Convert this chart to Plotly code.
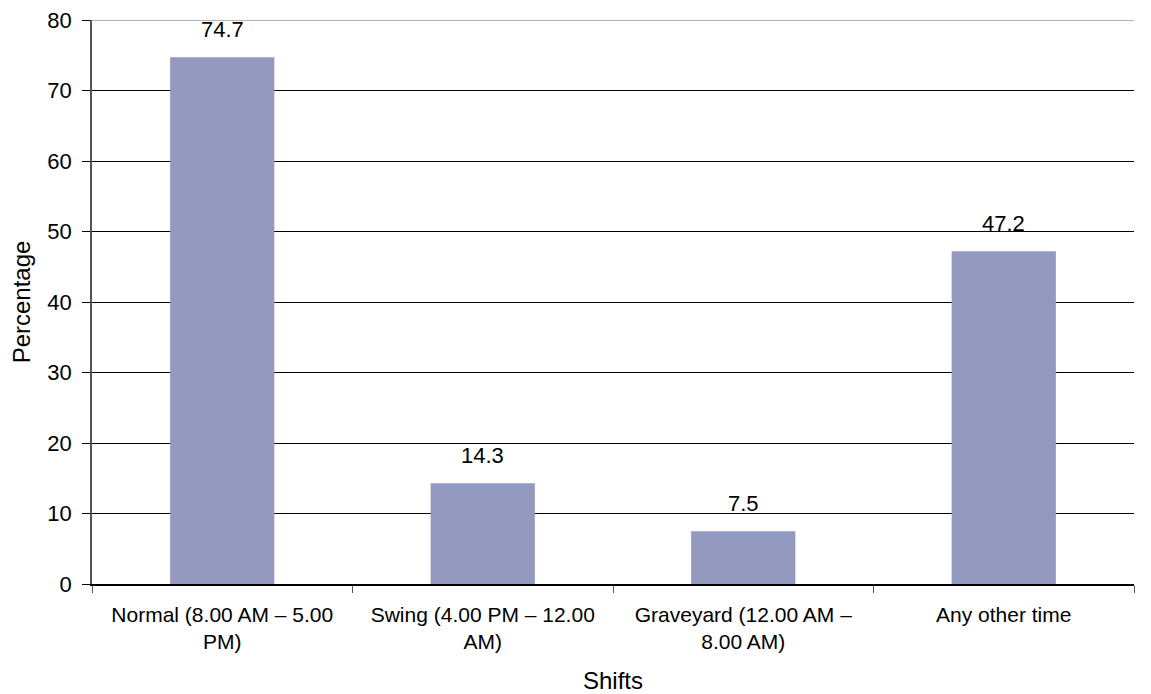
import plotly.graph_objects as go

# shift categories and the share of respondents (%)
shifts = [
    "Normal (8.00 AM – 5.00<br>PM)",
    "Swing (4.00 PM – 12.00<br>AM)",
    "Graveyard (12.00 AM –<br>8.00 AM)",
    "Any other time",
]
percentages = [74.7, 14.3, 7.5, 47.2]
y_ticks = [0, 10, 20, 30, 40, 50, 60, 70, 80]

fig = go.Figure()
fig.add_trace(go.Bar(
    x=shifts,
    y=percentages,
    width=0.4,
    marker=dict(color="#9499BF", line=dict(width=0)),
    hoverinfo="x+y",
))

# value labels sit a little above each bar
for s, v in zip(shifts, percentages):
    fig.add_annotation(x=s, y=v, text=f"{v:.1f}", showarrow=False,
                       yanchor="bottom", yshift=13,
                       font=dict(size=22, color="black"))

# top gridline is drawn lighter in the original
fig.add_shape(type="line", xref="paper", yref="y", x0=0, x1=1, y0=80, y1=80,
              line=dict(color="#9a9a9a", width=1.5))

# page has ~8px body margin, so margins are shifted to compensate
fig.update_layout(
    width=1151, height=694,
    margin=dict(l=84, r=25, t=12, b=118),
    plot_bgcolor="white",
    paper_bgcolor="white",
    font=dict(family="Liberation Sans, Arial, sans-serif", color="black"),
    showlegend=False,
    xaxis=dict(
        title=dict(text="Shifts", font=dict(size=24), standoff=20),
        tickfont=dict(size=21),
        showline=True, linecolor="black", linewidth=1.5,
        ticks="outside", tickson="boundaries", ticklen=7, tickcolor="#555",
        ticklabelstandoff=11,
        showgrid=False, automargin=False,
    ),
    yaxis=dict(
        title=dict(text="Percentage", font=dict(size=24), standoff=14),
        range=[0, 80],
        tickvals=y_ticks,
        tickfont=dict(size=22),
        ticklabeloverflow="allow",
        showline=True, linecolor="#555", linewidth=1.5,
        ticks="outside", ticklen=8, tickcolor="black",
        ticklabelstandoff=6,
        showgrid=True, gridcolor="black", gridwidth=1,
        zeroline=False, automargin=False,
    ),
)

fig.write_html("out.html")
